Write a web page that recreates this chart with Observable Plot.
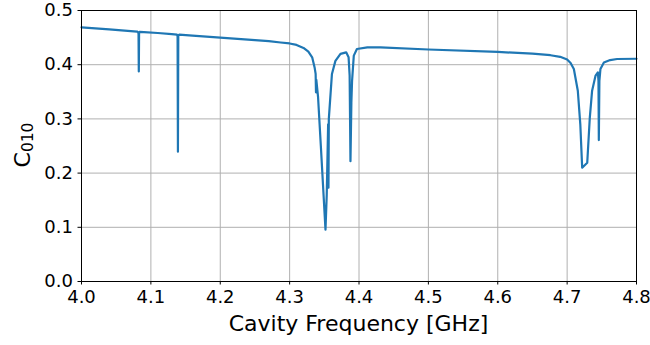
<!DOCTYPE html>
<html>
<head>
<meta charset="utf-8">
<script src="https://cdn.jsdelivr.net/npm/d3@7"></script>
<script src="https://cdn.jsdelivr.net/npm/@observablehq/plot@0.6"></script>
<style>
  html, body { margin: 0; padding: 0; background: #fff; }
  #chart { width: 650px; height: 345px; }
</style>
</head>
<body>
<div id="chart"></div>
<script>
// Cavity frequency (GHz)
const freq = [
  4.000, 4.040, 4.080, 4.0815, 4.0822, 4.0826, 4.0830, 4.0838, 4.090, 4.110,
  4.130, 4.1375, 4.1385, 4.1390, 4.1395, 4.1410, 4.160, 4.200, 4.250, 4.270,
  4.287, 4.300, 4.310, 4.320, 4.327, 4.3325, 4.336, 4.3375, 4.3380, 4.3385,
  4.341, 4.345, 4.3517, 4.3535, 4.3555, 4.3560, 4.3565, 4.361, 4.366, 4.3733,
  4.3815, 4.385, 4.3865, 4.3877, 4.389, 4.390, 4.3925, 4.397, 4.412, 4.431,
  4.500, 4.600, 4.650, 4.676, 4.690, 4.700, 4.705, 4.7097, 4.7154, 4.719,
  4.7217, 4.729, 4.7327, 4.736, 4.741, 4.7443, 4.7452, 4.7457, 4.7465, 4.748,
  4.753, 4.762, 4.772, 4.800
];
// C_010 values
const c010 = [
  0.469, 0.465, 0.4612, 0.460, 0.4575, 0.3876, 0.458, 0.4605, 0.4602, 0.4585,
  0.4565, 0.4555, 0.4525, 0.2395, 0.454, 0.4555, 0.4535, 0.450, 0.4455, 0.4435,
  0.441, 0.4392, 0.4365, 0.431, 0.424, 0.4136, 0.395, 0.383, 0.349, 0.372,
  0.34, 0.25, 0.0957, 0.16, 0.29, 0.173, 0.30, 0.383, 0.407, 0.42,
  0.4228, 0.4136, 0.38, 0.222, 0.33, 0.37, 0.4167, 0.429, 0.432, 0.432,
  0.428, 0.4235, 0.4205, 0.4175, 0.4145, 0.4095, 0.403, 0.392, 0.352, 0.29,
  0.21, 0.219, 0.3025, 0.352, 0.38, 0.386, 0.37, 0.261, 0.37, 0.392,
  0.404, 0.4085, 0.4105, 0.411
];
const xTicks = [4.0, 4.1, 4.2, 4.3, 4.4, 4.5, 4.6, 4.7, 4.8];
const yTicks = [0.0, 0.1, 0.2, 0.3, 0.4, 0.5];
const xLabel = "Cavity Frequency [GHz]";
const yLabelMain = "C";
const yLabelSub = "010";

const data = freq.map((f, i) => ({f, c: c010[i]}));

const chart = Plot.plot({
  width: 650,
  height: 345,
  marginTop: 10,
  marginRight: 14,
  marginBottom: 64,
  marginLeft: 81,
  style: {fontFamily: "DejaVu Sans", fontSize: "18px", color: "#000", background: "#fff", overflow: "visible"},
  x: {domain: [4.0, 4.8]},
  y: {domain: [0, 0.5]},
  marks: [
    Plot.gridX(xTicks, {stroke: "#b0b0b0", strokeOpacity: 1, strokeWidth: 1}),
    Plot.gridY(yTicks, {stroke: "#b0b0b0", strokeOpacity: 1, strokeWidth: 1}),
    Plot.line(data, {x: "f", y: "c", stroke: "#1f77b4", strokeWidth: 2.2, strokeLinejoin: "round"}),
    Plot.frame({stroke: "#000", strokeWidth: 1}),
    Plot.axisX(xTicks, {tickFormat: d3.format(".1f"), tickSize: 3.5, tickPadding: 5.5, fontSize: 18, label: null}),
    Plot.axisY(yTicks, {tickFormat: d3.format(".1f"), tickSize: 3.5, tickPadding: 5, fontSize: 18, label: null})
  ]
});

document.getElementById("chart").appendChild(chart);

const svg = d3.select(chart);
// x-axis label
svg.append("text")
  .attr("x", 358.5)
  .attr("y", 331)
  .attr("text-anchor", "middle")
  .attr("font-family", "DejaVu Sans")
  .attr("font-size", 22)
  .attr("fill", "#000")
  .text(xLabel);
// y-axis label with subscript
const yl = svg.append("text")
  .attr("transform", "translate(30,145) rotate(-90)")
  .attr("text-anchor", "middle")
  .attr("font-family", "DejaVu Sans")
  .attr("font-size", 22)
  .attr("fill", "#000");
yl.append("tspan").text(yLabelMain);
yl.append("tspan").attr("font-size", 15.5).attr("dy", 3).text(yLabelSub);
</script>
</body>
</html>
